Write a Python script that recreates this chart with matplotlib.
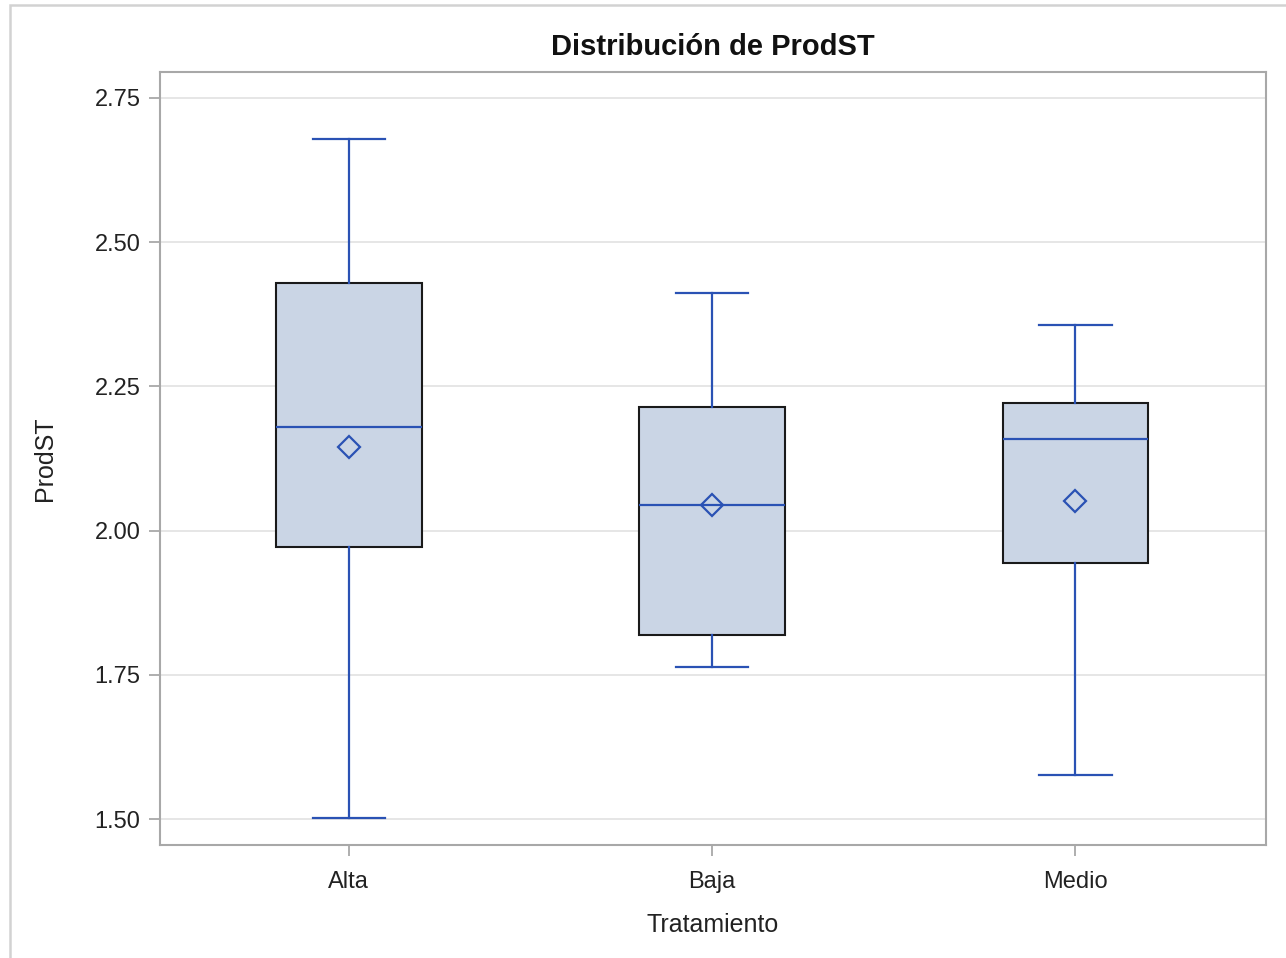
import matplotlib.pyplot as plt
from matplotlib.patches import Rectangle

plt.rcParams['font.family'] = ['Liberation Sans', 'DejaVu Sans']

# resumen por tratamiento
grupos = ['Alta', 'Baja', 'Medio']
minimos = [1.502, 1.764, 1.576]
q1 = [1.972, 1.819, 1.944]
medianas = [2.180, 2.044, 2.159]
medias = [2.145, 2.044, 2.051]
q3 = [2.429, 2.214, 2.221]
maximos = [2.679, 2.412, 2.356]

azul = '#2A52B4'
relleno = '#CAD5E5'

stats = []
for i, g in enumerate(grupos):
    stats.append({'label': g, 'whislo': minimos[i], 'q1': q1[i], 'med': medianas[i],
                  'mean': medias[i], 'q3': q3[i], 'whishi': maximos[i], 'fliers': []})

fig = plt.figure(figsize=(12.86, 9.58), dpi=100)
ax = fig.add_axes([160 / 1286, 1 - 845 / 958, 1106 / 1286, 773 / 958])

ax.bxp(stats, positions=range(len(grupos)), widths=0.4, patch_artist=True,
       showmeans=True, showfliers=False,
       boxprops=dict(facecolor=relleno, edgecolor='#1a1a1a', linewidth=1.5),
       medianprops=dict(color=azul, linewidth=1.6),
       whiskerprops=dict(color=azul, linewidth=1.6),
       capprops=dict(color=azul, linewidth=1.6),
       capwidths=0.2,
       meanprops=dict(marker='D', markerfacecolor='none', markeredgecolor=azul,
                      markersize=11, markeredgewidth=1.6),
       zorder=3)

ax.set_xlim(-0.52, 2.525)
ax.set_ylim(1.455, 2.795)
ax.set_yticks([1.50, 1.75, 2.00, 2.25, 2.50, 2.75])
ax.set_yticklabels(['1.50', '1.75', '2.00', '2.25', '2.50', '2.75'])
ax.set_xticks(range(len(grupos)))
ax.set_xticklabels(grupos)
ax.yaxis.grid(True, color='#E4E4E4', linewidth=1.3, zorder=0)
ax.set_axisbelow(True)

for s in ax.spines.values():
    s.set_color('#A8A8A8')
    s.set_linewidth(1.5)
ax.tick_params(axis='both', colors='#A8A8A8', labelcolor='#222222', labelsize=17,
               length=8, width=1.3)
ax.tick_params(axis='y', pad=6)
ax.tick_params(axis='x', pad=11)

ax.set_title('Distribución de ProdST', fontsize=21, fontweight='bold', pad=12, color='#111111')
ax.set_xlabel('Tratamiento', fontsize=18, color='#222222')
ax.set_ylabel('ProdST', fontsize=18, color='#222222')
ax.xaxis.set_label_coords(0.5, -0.088)
ax.yaxis.set_label_coords(-0.093, 0.5)

# marco exterior
fig.patches.append(Rectangle((10 / 1286, -0.05), 1.1, 1 - 5 / 958 + 0.05,
                             transform=fig.transFigure, fill=False,
                             edgecolor='#D2D2D2', linewidth=1.8))

fig.savefig('out.png', dpi=100)
